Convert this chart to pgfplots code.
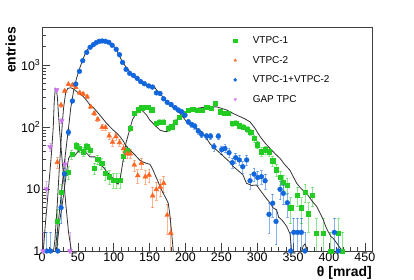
\documentclass[border=0pt]{standalone}
\usepackage{pgfplots}
\pgfplotsset{compat=1.18}
\usepackage{pgfplotstable}
\usepackage{fontspec}
\setmainfont{Liberation Sans}
\definecolor{cgreen}{RGB}{34,204,34}
\definecolor{corange}{RGB}{255,102,34}
\definecolor{cblue}{RGB}{17,102,221}
\definecolor{cpurple}{RGB}{204,119,238}

% VTPC-1 data
\pgfplotstableread{
x y
21.7 3
26.5 8.8
32 18
36.7 18.5
41.6 36
47.4 50
52 45
57.6 40
62.3 48
67 42.6
72.9 21.6
77.6 30
83.2 25.8
87.8 17.9
93.8 15.8
99.4 14
104.1 14
108.7 14
113.3 34
118 42.6
122.7 95
128.2 167
134 190
139 205
143.6 211
148 207
153 190
159 114
163.5 121
169 121
176 95
180.8 101
185.4 121
191.4 143
197 167
204 188
210 193
217 184
222.6 188
229.6 211
235.6 200
241 240
248 176
253.7 167
259.7 167
265 114
270 116
275 105
280.6 100
286 92
291 83
295.5 65
300.5 52
306 40
311.5 43
316.5 40
321.5 28.5
327 20.5
332 15.5
336.5 13
341.5 11.6
346.6 5
356 8
361.5 5
366.6 9
371.5 4
376.8 8
382.5 1.93
392 1.93
402.5 1
413 1.93
418.5 1
}\greendata

% VTPC-2 data
\pgfplotstableread{
x y
21.4 27
26.6 226
31.7 380
36.8 488
42.4 475
47.1 437
52.7 357
57.3 340
62.9 308
68 212
72.7 166
77.8 133
83.9 99
88.5 98
93.6 72
98.3 57
103 70
108 56
113.7 45
118.4 37
123 37
128.6 24.5
133.5 16.5
138.6 26
144 15.8
149.2 16.8
154.2 7.8
159.3 9.8
164.8 10.8
169.6 12.4
174.5 3.8
179.6 1.95
}\orangedata

% VTPC-1+VTPC-2 data
\pgfplotstableread{
x y
6.5 1
12 1
22 1
26.6 5
31.2 17.5
36.8 82
42.4 263
47.1 494
52.2 791
56.8 1175
62.4 1600
67.1 1930
71.7 2128
75.5 2290
79.7 2410
83.9 2440
88.5 2410
93.2 2320
97.8 2080
103.4 1790
108 1466
112.3 1100
117.2 850
122.2 734
127.4 680
132.6 610
137.5 540
142.6 500
148.6 460
154 440
159.5 355
164.5 348
169.6 285
174.5 250
180 230
185.5 205
190 188
194.7 176
199.3 155
204 121
208.6 110
213 103
217.9 86
222.6 76
229.6 71
235 71
239.7 48
245.8 71
250.5 43
255 45
260.7 38.5
265.3 26.6
270 32
275 29.4
279.8 22.9
285.3 29.4
290 13.6
295.5 17.4
300.7 15.3
306 15.8
311 13.6
316.4 3.9
321.6 5.9
326.2 3
331.8 9.9
336.4 8.5
342 6
346.6 1
351 2
356.4 2
361.5 2
366.6 1
407.5 2
413 1
}\bluedata

% GAP TPC data
\pgfplotstableread{
x y
1.5 1
6.2 10
11.2 48
20.5 395
27.5 125
32 25
39 1
}\purpledata

% simulation lines
\pgfplotstableread{
x y
19.5 0.8
21 1.2
25 3.2
29.7 7.5
34 18
37 31
41.4 37.7
46 35
50 40
55.3 42.6
60 40
62.3 37.7
67 33
74 33
80.8 25.8
86 22
90.2 19
97 15.8
104 12.4
106 12
108.7 14
113.3 30
117 55
122.7 95
126 130
129.6 155
134 175
139 188
146 155
150 130
155 114
160 100
164.5 89
170 85
174 84
178 95
183 114
188 130
192.4 147
197 165
201.7 176
208 188
215.6 200
222 205
229.6 211
236 211
243.5 211
250 200
257.5 188
262 176
269 160
276 147
283 135
290 121
297 95
304 70
311 55
318 45
325 37
332 31
338 25
345.7 20
350 16
355 12.4
360 10.5
364 9.5
369 8.5
376 6.5
383 5.2
388 4
392 3.2
396 2.4
399 2.05
403 1.7
406 1.6
411 1.33
416 1.1
420 1
422 0.8
}\greenline

\pgfplotstableread{
x y
15 0.8
18 1.5
21 5
24 20
27 70
30 200
33 360
36 420
40 430
44 410
48.4 373
53 340
57.6 310
62 270
66.9 226
71.5 207
76 180
80.8 155
85 135
90.2 114
95 100
99.4 89
104 80
108.7 70
113 60
117 50
122.7 42.6
130 35
136.6 29
139 28
145 26
150.6 25
155 20
157.5 17
162 13
166 10
169 8.5
173 7
176 5.9
178.5 3.6
181 1.8
183 1
184 0.8
}\orangeline

\pgfplotstableread{
x y
18 0.8
20 1.5
24 4
27.5 9.6
31 25
34 50
36.7 90
40 200
44 380
48 600
52 850
56 1150
60 1500
65 1900
70 2150
75 2320
80 2420
85 2440
90 2390
95 2250
100 2000
105 1650
110 1250
115 1000
120 850
125 700
130 620
136.6 520
143 470
150 446
155 475
160 390
164.5 348
170 290
178.4 226
185 195
192.4 166
201.7 121
211 101
222.6 84
228 70
234 54
241 45
248 38
255 32
262 27
266.7 23
273 20
280 17
285 12.4
292 11.4
299 11.6
304 9.6
311 7.5
318 5.9
322 5
327 4.6
330 3.5
334 3.2
338 2.8
341 2.5
345.7 1.9
348 1
350 0.8
360 0.8
364 1.2
366.6 1.3
369 1.1
372 0.8
}\blueline

\pgfplotstableread{
x y
1.8 1
5 3
9 10
13 35
15.7 100
17 250
18.5 420
20 400
21.5 300
23 160
25 75
29 22
33 6
37 2
41 1
42 0.8
}\purpleline

\pgfplotsset{
  legimg/.style={legend image code/.code={\path[draw=none,fill=none] (0cm,0cm) -- (0.7cm,0cm); \draw[##1,mark size=1.6bp] plot coordinates {(0.15cm,0cm)};}},
  simline/.style={forget plot, no markers, color=black!80, line width=0.8bp},
}

\begin{document}
\begin{tikzpicture}
\begin{axis}[
  at={(0,0)}, anchor=south west,
  scale only axis, width=330bp, height=224bp,
  xmin=0, xmax=460,
  ymode=log, ymin=1, ymax=4100,
  xtick={0,50,...,450},
  minor x tick num=4,
  ytick={1,10,100,1000},
  yticklabels={1,10,10\textsuperscript{2},10\textsuperscript{3}},
  minor ytick={2,3,4,5,6,7,8,9,20,30,40,50,60,70,80,90,200,300,400,500,600,700,800,900,2000,3000,4000},
  xtick pos=bottom, ytick pos=left,
  tick align=inside,
  major tick length=8bp, minor tick length=4bp,
  tick style={black!75, line width=0.6bp},
  axis line style={black!75, line width=0.8bp},
  /pgf/number format/assume math mode=true,
  tick label style={font=\fontsize{12.5}{14}\selectfont},
  xticklabel style={inner sep=1bp, yshift=-1bp},
  yticklabel style={inner sep=1.5bp},
  legend style={at={(rel axis cs:0.563,0.975)}, anchor=north west, draw=none, fill=none,
    font=\fontsize{10}{12}\selectfont, row sep=7bp},
  legend cell align=left,
]
\addplot[only marks, mark=square*, mark size=2.1bp, color=cgreen, legimg,
  error bars/y dir=both, error bars/y explicit,
  error bars/error bar style={cgreen, opacity=0.5, line width=0.7bp},
  error bars/error mark options={cgreen, rotate=90, mark size=1.4bp, opacity=0.5, line width=0.7bp}]
  table[x=x, y=y, y error plus expr={sqrt(\thisrow{y})}, y error minus expr={min(sqrt(\thisrow{y}),0.95*\thisrow{y})}] {\greendata};
\addlegendentry{VTPC-1}
\addplot[only marks, mark=triangle*, mark size=2.8bp, color=corange, legimg,
  error bars/y dir=both, error bars/y explicit,
  error bars/error bar style={corange, opacity=0.5, line width=0.7bp},
  error bars/error mark options={corange, rotate=90, mark size=1.4bp, opacity=0.5, line width=0.7bp}]
  table[x=x, y=y, y error plus expr={sqrt(\thisrow{y})}, y error minus expr={min(sqrt(\thisrow{y}),0.95*\thisrow{y})}] {\orangedata};
\addlegendentry{VTPC-2}
\addplot[only marks, mark=*, mark size=2.4bp, color=cblue, legimg,
  error bars/y dir=both, error bars/y explicit,
  error bars/error bar style={cblue, opacity=0.5, line width=0.7bp},
  error bars/error mark options={cblue, rotate=90, mark size=1.4bp, opacity=0.5, line width=0.7bp}]
  table[x=x, y=y, y error plus expr={sqrt(\thisrow{y})}, y error minus expr={min(sqrt(\thisrow{y}),0.95*\thisrow{y})}] {\bluedata};
\addlegendentry{VTPC-1+VTPC-2}
\addplot[only marks, mark=triangle*, mark options={rotate=180}, mark size=2.8bp, color=cpurple, legimg,
  error bars/y dir=both, error bars/y explicit,
  error bars/error bar style={cpurple, opacity=0.5, line width=0.7bp},
  error bars/error mark options={cpurple, rotate=90, mark size=1.4bp, opacity=0.5, line width=0.7bp}]
  table[x=x, y=y, y error plus expr={sqrt(\thisrow{y})}, y error minus expr={min(sqrt(\thisrow{y}),0.95*\thisrow{y})}] {\purpledata};
\addlegendentry{GAP TPC}
\addplot[simline] table[x=x,y=y] {\greenline};
\addplot[simline] table[x=x,y=y] {\orangeline};
\addplot[simline] table[x=x,y=y] {\blueline};
\addplot[simline] table[x=x,y=y] {\purpleline};
\end{axis}
\node[rotate=90, anchor=south east, font=\bfseries\fontsize{14}{16}\selectfont, inner sep=0pt] at (-26bp,224bp) {entries};
\node[anchor=east, font=\bfseries\fontsize{14}{16}\selectfont, inner sep=0pt] at (330bp,-21.5bp) {θ [mrad]};
\pgfresetboundingbox
\path[use as bounding box] (-42bp,-29bp) rectangle (372bp,251bp);
\end{tikzpicture}
\end{document}
